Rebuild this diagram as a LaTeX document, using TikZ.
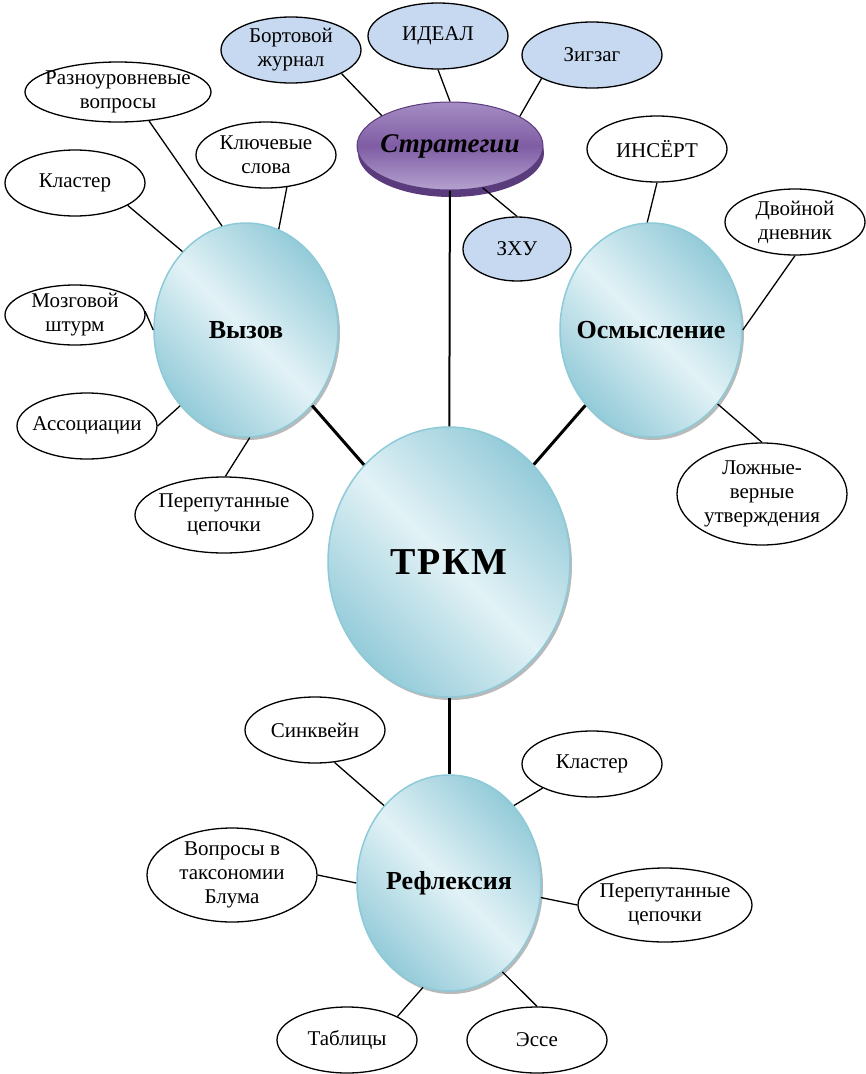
\documentclass[tikz,border=0pt]{standalone}
\usepackage{fontspec}
\setmainfont{Liberation Serif}
\usetikzlibrary{shapes.geometric,shadows}

\definecolor{seaLight}{HTML}{E2F2F6}
\definecolor{seaDark}{HTML}{94CBD9}
\definecolor{seaRim}{HTML}{8DCAD8}
\definecolor{skyFill}{HTML}{C6D9F1}
\definecolor{plumTop}{HTML}{A58CC3}
\definecolor{plumMid}{HTML}{7F5DA4}
\definecolor{plumBot}{HTML}{B5A2CF}
\definecolor{plumDeep}{HTML}{5A3C7D}

\begin{document}
\begin{tikzpicture}[x=1pt,y=-1pt,
    every label/.style={align=center,font=\fontsize{21}{24}\selectfont},
    leaf/.style={ellipse,draw,line width=1.3pt,fill=white,inner sep=0pt,
      minimum width=140pt,minimum height=66pt},
    leafsky/.style={leaf,fill=skyFill},
    stage/.style={ellipse,draw=seaRim,line width=1.5pt,inner sep=0pt,
      top color=seaDark,bottom color=seaDark,middle color=seaLight,
      shading angle=-45,
      drop shadow={shadow xshift=2pt,shadow yshift=-3pt,opacity=1,fill=gray!55}},
    stagetxt/.style={font=\fontsize{26}{30}\selectfont\bfseries},
    link/.style={line width=1.3pt},
    trunk/.style={line width=3pt}]
  \useasboundingbox (0,0) rectangle (866,1074);

  % stages
  \node[stage,minimum width=242pt,minimum height=270pt,
    label={[font=\fontsize{38}{42}\selectfont\bfseries\addfontfeatures{LetterSpace=5}]center:ТРКМ}] (trkm) at (449,562) {};
  \node[stage,minimum width=184pt,minimum height=214pt,label={[stagetxt]center:Вызов}] (vyzov) at (246,330) {};
  \node[stage,minimum width=182pt,minimum height=214pt,label={[stagetxt]center:Осмысление}] (osm) at (651,330) {};
  \node[stage,minimum width=184pt,minimum height=216pt,label={[stagetxt]center:Рефлексия}] (refl) at (449,883) {};

  \node[ellipse,draw=plumDeep,line width=1pt,inner sep=0pt,
    minimum width=186pt,minimum height=88pt,
    top color=plumTop,bottom color=plumBot,middle color=plumMid,
    drop shadow={shadow xshift=1pt,shadow yshift=-7pt,opacity=1,fill=plumDeep},
    label={[font=\fontsize{27}{31}\selectfont\bfseries\itshape]center:Стратегии}] (strat) at (450,146) {};

  % strategies
  \node[leafsky,label=center:{Бортовой\\журнал}] (bort) at (291,50) {};
  \node[leafsky,label=center:ИДЕАЛ] (ideal) at (438,36) {};
  \node[leafsky,label=center:Зигзаг] (zigzag) at (592,55) {};
  \node[leafsky,minimum width=108pt,minimum height=64pt,label=center:ЗХУ] (zhu) at (517,249) {};

  \node[leaf,minimum width=186pt,minimum height=60pt,label=center:{Разноуровневые\\вопросы}] (razn) at (118,92) {};
  \node[leaf,label=center:{Ключевые\\слова}] (klyuch) at (266,155) {};
  \node[leaf,label=center:Кластер] (klast) at (75,183) {};
  \node[leaf,minimum height=60pt,label=center:{Мозговой\\штурм}] (mozg) at (75,315) {};
  \node[leaf,label=center:Ассоциации] (assoc) at (87,426) {};
  \node[leaf,minimum width=178pt,minimum height=76pt,label=center:{Перепутанные\\цепочки}] (pereputA) at (224,515) {};

  \node[leaf,label=center:ИНСЁРТ] (insert) at (657,149) {};
  \node[leaf,label=center:{Двойной\\дневник}] (dvoin) at (795,222) {};
  \node[leaf,minimum width=170pt,minimum height=102pt,label=center:{Ложные-\\верные\\утверждения}] (lozh) at (762,494) {};

  \node[leaf,label=center:Синквейн] (sinkv) at (315,730) {};
  \node[leaf,label=center:Кластер] (klastB) at (592,764) {};
  \node[leaf,minimum width=170pt,minimum height=94pt,label=center:{Вопросы в\\таксономии\\Блума}] (bloom) at (232,875) {};
  \node[leaf,minimum width=174pt,minimum height=74pt,label=center:{Перепутанные\\цепочки}] (pereputB) at (665,905) {};
  \node[leaf,label=center:Таблицы] (tabl) at (347,1040) {};
  \node[leaf,label=center:Эссе] (esse) at (537,1040) {};

  % connectors
  \draw[trunk] (vyzov) -- (trkm);
  \draw[trunk] (osm) -- (trkm);
  \draw[trunk] (trkm) -- (refl);
  \draw[line width=2pt] (strat) -- (trkm);
  \foreach \a/\b in {razn.-43/vyzov.103, klast.-23/vyzov.129, mozg.3/vyzov.180,
      assoc.0/vyzov.229, pereputA.88/vyzov.-88, klyuch.-57/vyzov.72,
      insert.-90/osm.92, dvoin.-90/osm.0, lozh.90/osm.-48,
      bort.-25/strat.156, ideal.-90/strat.90, zigzag.205/strat.23, zhu.90/strat.-52,
      sinkv.-59/refl.130, klastB.206/refl.50, bloom.0/refl.180,
      pereputB.180/refl.-9, tabl.25/refl.-104, esse.90/refl.-59}
    \draw[link] (\a) -- (\b);
\end{tikzpicture}
\end{document}
